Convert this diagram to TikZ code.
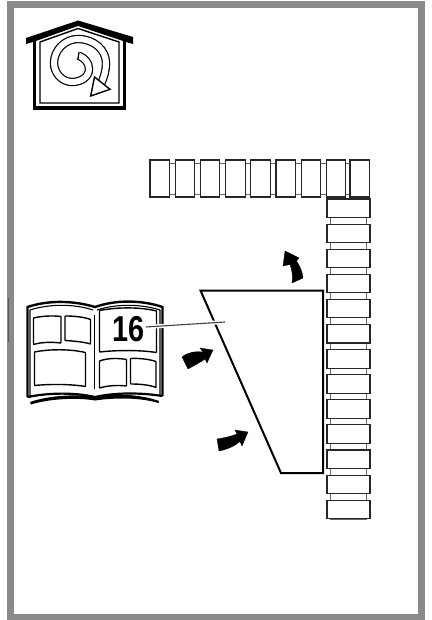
\documentclass[tikz,border=0pt]{standalone}
\usepackage{fontspec}
\setsansfont{Liberation Sans}
\usepackage{xcolor}
\usetikzlibrary{math}
\definecolor{mygray}{RGB}{138,138,138}
\tikzset{
brick/.style={draw=black!85, fill=white, line width=1.1},
link/.style={draw=black!60, fill=white, line width=0.9},
page/.style={draw=black, line width=1.4, rounded corners=0.5},
flow/.style={fill=black, draw=black, line width=0.3}
}

\begin{document}
\begin{tikzpicture}[x=1pt,y=-1pt]
\tikzmath{
\pitch=25.2;
\bw=19.5;
\bh=37;
\cw=43;
\ch=18.5;
}
\useasboundingbox (0,0) rectangle (431,620);
\fill[white] (0,0) rectangle (431,620);

%frame
\draw[mygray, line width=7] (10,4.5) rectangle (421,617);
\draw[black!65, line width=1.5] (8.5,298) -- (8.5,342);

%house
\fill[black] (26,38) -- (78,20.5) -- (133,37) -- (133,44) -- (126,42) -- (78,26) -- (33,42) -- (26,44) -- cycle;
\draw[line width=3.4, line join=miter] (34.5,41) -- (34.5,108) -- (124.5,108) -- (124.5,41);
\draw[line width=1.4] (40,42) -- (78,28.5) -- (119,42) -- (119,103) -- (40,103) -- cycle;
\draw[line width=1.2, double=white, double distance=6] (78.5,55.5) .. controls (85,58) and (89,63) .. (89,69) .. controls (89,77) and (81,82) .. (72,82) .. controls (62,82) and (54,73) .. (54,63) .. controls (54,50) and (65,39) .. (78,39) .. controls (94,39) and (106,50) .. (106,63) .. controls (106,71) and (104,77) .. (101,84);
\draw[line width=1.2] (79,52) -- (78,59);
\draw[fill=white, line width=1.4, line join=miter] (94.5,77) -- (110,89.3) -- (90.7,96) -- cycle;

%book
\draw[line width=2.4] (27.5,397) -- (27.5,307) .. controls (50,299.5) and (75,301) .. (95,307) .. controls (115,300) and (140,299.5) .. (162.5,307) -- (162.5,396);
\draw[line width=2.2] (27.5,397) .. controls (50,392.5) and (75,392.5) .. (95,397) .. controls (115,392.5) and (140,392.5) .. (162.5,396);
\fill[black] (30,402) .. controls (50,395) and (78,394) .. (95,397) .. controls (112,393) and (140,394) .. (159,401) -- (158.5,403) .. controls (140,397.5) and (115,397.5) .. (95,400.5) .. controls (78,397.5) and (50,398.5) .. (31,404.5) -- cycle;
\draw[line width=1.1] (30,398) -- (30,310) .. controls (50,303.5) and (75,304) .. (93,310);
\draw[line width=1.1] (97,310) .. controls (115,304) and (140,303.5) .. (160,310) -- (160,396);
\draw[line width=1.8] (94.5,315) -- (94.5,389);
\draw[page] (33.5,318) .. controls (42,316) and (52,315.5) .. (61,316.5) -- (61,343) .. controls (52,342) and (42,342) .. (33.5,344.5) -- cycle;
\draw[page] (65,316) .. controls (74,316) and (84,317) .. (90.5,319.5) -- (90.5,344) .. controls (84,342) and (74,341) .. (65,340.5) -- cycle;
\draw[page] (34.5,352) .. controls (50,349) and (70,349) .. (85.5,352.5) -- (85.5,386.5) .. controls (70,384) and (50,384) .. (34.5,385.5) -- cycle;
\draw[page] (99.5,310.5) .. controls (118,307) and (140,307) .. (156.5,311) -- (156.5,352.5) .. controls (140,350) and (118,350) .. (99.5,352) -- cycle;
\draw[page] (99.5,361) .. controls (108,358) and (118,358) .. (126.5,359.5) -- (126.5,386) .. controls (118,385) and (108,385.5) .. (99.5,388) -- cycle;
\draw[page] (130.5,358.5) .. controls (140,358) and (150,359.5) .. (156,361.5) -- (156,387.5) .. controls (150,385) and (140,384) .. (130.5,384) -- cycle;

%trapezoid
\draw[line width=2, line join=miter] (200.5,290.5) -- (323,290.5) -- (323,473) -- (281,473) -- cycle;

%label
\coordinate (leaderstart) at (146,327);
\coordinate (leaderend) at (225,322);
\draw[white, line width=4] (leaderstart) -- (leaderend);
\draw[black!75, line width=1.1] (leaderstart) -- (leaderend);
\node[font=\sffamily\bfseries, scale=3.6, xscale=0.8, inner sep=0] (sixteen) at (129,329.5) {16};

%arrows
\fill[flow] (182,357) .. controls (188,352) and (196,351) .. (203,352) -- (200,348) -- (213,350) -- (207,363) -- (205,359) .. controls (201,362) and (195,365) .. (188,369) -- cycle;
\fill[flow] (217,439) .. controls (223,438) and (231,436.5) .. (237,434) -- (235,430) -- (248,432) -- (242,446) -- (240,441.5) .. controls (235,446) and (227,449.5) .. (219,451) -- cycle;
\fill[flow] (292,283) .. controls (293,276) and (292,270) .. (290,264.5) -- (283,266) -- (285,251) -- (299,258) -- (296.5,261) .. controls (300,266) and (302.5,272) .. (303,278) -- cycle;

%bricks, top row
\filldraw[link] (150,163) rectangle (369,194);
\foreach \i in {0,...,7} {
\filldraw[brick] (150+\i*\pitch,160) rectangle +(\bw,\bh);
}
\filldraw[brick] (350,160) rectangle +(\bw,\bh);

%bricks, right column
\filldraw[link] (330.5,199) rectangle (366.5,519);
\foreach \i in {0,...,12} {
\filldraw[brick] (327,199+\i*25.1) rectangle +(\cw,\ch);
}
\end{tikzpicture}
\end{document}
